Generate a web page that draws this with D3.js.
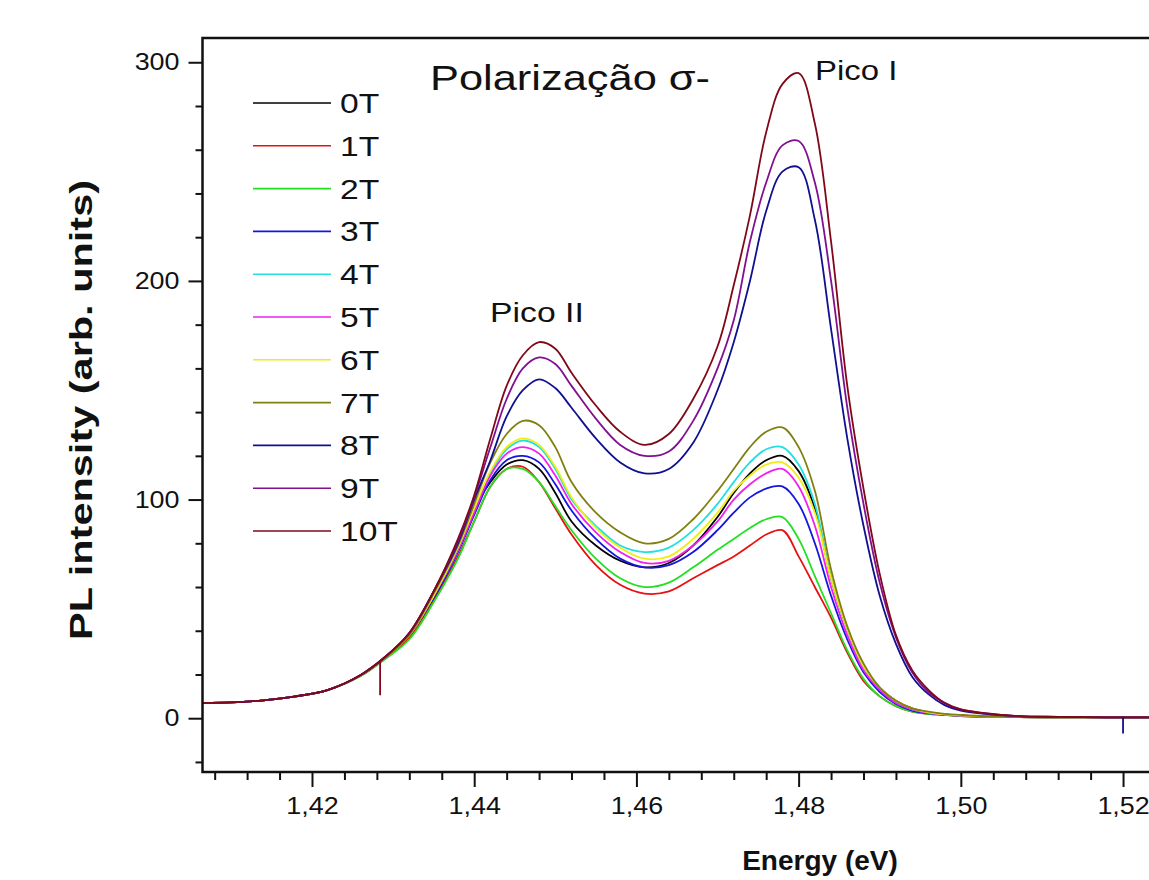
<!DOCTYPE html>
<html>
<head>
<meta charset="utf-8">
<script src="https://cdn.jsdelivr.net/npm/d3@7"></script>
<style>
  body { margin: 0; background: #fff; }
  svg text { font-family: Arial, "Liberation Sans", sans-serif; fill: #111; }
</style>
</head>
<body>
<div id="chart"></div>
<script>
// photon energy (eV), shared by all fields
var energy = [1.4065, 1.410, 1.414, 1.418, 1.422, 1.426, 1.429, 1.432, 1.435,
  1.438, 1.440, 1.442, 1.444, 1.446, 1.448, 1.450, 1.452, 1.455, 1.458, 1.461, 1.464, 1.467,
  1.470, 1.472, 1.474, 1.476, 1.478, 1.480, 1.482, 1.484, 1.486, 1.488, 1.490, 1.492, 1.494,
  1.496, 1.498, 1.500, 1.503, 1.507, 1.512, 1.518, 1.5232];

// PL intensity for each magnetic field
var pl0T = [7, 7.2, 8.2, 10, 13, 19.5, 27.5, 38, 56,
  77, 96, 108, 116, 118, 114, 103, 90, 79, 72, 69, 71, 79, 92, 103, 112, 118, 120, 113, 96, 64, 41, 24, 14, 8, 4.5, 2.7, 1.8, 1.3,
  0.8, 0.5, 0.4, 0.3, 0.3];
var pl1T = [7, 7.2, 8.2, 10, 13, 19.5, 27.3, 37, 54,
  74, 90, 106, 114, 115, 108, 96, 84, 70, 61, 57, 58, 64, 70, 74, 79, 84, 86, 74, 60, 46, 30, 17, 10, 5.5, 3, 2, 1.5, 1,
  0.7, 0.5, 0.4, 0.3, 0.3];
var pl2T = [7, 7.2, 8.2, 10, 13, 19.2, 27, 36, 53,
  73, 90, 106, 114, 114, 108, 97, 86, 73, 64, 60, 62, 69, 77, 82, 87, 91, 92, 82, 65, 48, 31, 18, 10, 5.5, 3, 2, 1.5, 1,
  0.7, 0.5, 0.4, 0.3, 0.3];
var pl3T = [7, 7.2, 8.2, 10, 13, 19.5, 27.5, 38, 55,
  76, 93, 109, 118, 120, 117, 107, 95, 82, 73, 69, 70, 76, 86, 94, 101, 105, 106, 98, 80, 56, 36, 21, 12, 6.5, 3.5, 2.2, 1.6, 1.1,
  0.7, 0.5, 0.4, 0.3, 0.3];
var pl4T = [7, 7.2, 8.2, 10, 13, 19.5, 27.5, 38, 56,
  77, 95, 112, 123, 127, 124, 114, 100, 88, 79, 76, 78, 86, 98, 108, 117, 123, 124, 116, 98, 64, 41, 24, 14, 7.5, 4, 2.5, 1.8, 1.2,
  0.8, 0.5, 0.4, 0.3, 0.3];
var pl5T = [7, 7.2, 8.2, 10, 13, 19.5, 27.5, 38, 56,
  77, 94, 111, 121, 124, 121, 111, 98, 85, 76, 71, 72, 79, 90, 100, 107, 112, 114, 106, 88, 60, 38, 22, 13, 7, 4, 2.4, 1.7, 1.2,
  0.8, 0.5, 0.4, 0.3, 0.3];
var pl6T = [7, 7.2, 8.2, 10, 13, 19.5, 27.5, 38, 56,
  78, 96, 113, 124, 128, 125, 115, 101, 87, 78, 73, 74, 82, 94, 104, 111, 116, 117, 110, 94, 64, 41, 24, 14, 8, 4.5, 2.7, 1.8, 1.3,
  0.8, 0.5, 0.4, 0.3, 0.3];
var pl7T = [7, 7.2, 8.2, 10, 13, 19.5, 27.5, 38, 57,
  79, 98, 117, 130, 136, 134, 124, 108, 94, 85, 80, 82, 91, 104, 114, 124, 131, 133, 124, 104, 68, 42, 25, 14, 8, 4.5, 3, 2, 1.5,
  0.9, 0.5, 0.4, 0.3, 0.3];
var pl8T = [7, 7.2, 8.2, 10, 13, 19.8, 28, 39, 58,
  80, 100, 118, 138, 150, 155, 151, 142, 128, 117, 112, 114, 126, 150, 172, 200, 232, 250, 252, 228, 178, 128, 88, 56, 34, 19, 11, 6, 3.5,
  2, 1, 0.6, 0.4, 0.4];
var pl9T = [7, 7.2, 8.2, 10, 13, 19.8, 28, 39, 58,
  81, 101, 124, 146, 160, 165, 162, 152, 137, 125, 120, 122, 136, 160, 182, 218, 245, 262, 264, 245, 200, 142, 98, 62, 37, 21, 12, 7, 4,
  2.2, 1, 0.6, 0.4, 0.4];
var pl10T = [7, 7.2, 8.2, 10, 13, 19.8, 28, 39, 58,
  82, 102, 128, 152, 166, 172, 169, 158, 143, 131, 125, 130, 146, 170, 198, 230, 268, 290, 295, 272, 218, 152, 105, 66, 38, 22, 13, 7, 4,
  2.3, 1, 0.6, 0.4, 0.4];

// single-channel glitches (field index, energy, value at the bottom of the spike)
var spikeField = [10, 8];
var spikeEnergy = [1.4284, 1.5200];
var spikeValue = [10.5, -7];

var fieldLabels = ['0T', '1T', '2T', '3T', '4T', '5T', '6T', '7T', '8T', '9T', '10T'];
var fieldColors = ['#000000', '#e81010', '#22e022', '#1515e0', '#20e0e0', '#f020f0',
                   '#f2ec10', '#808010', '#101090', '#801090', '#800818'];
var xTicks = [1.42, 1.44, 1.46, 1.48, 1.50, 1.52];
var yTicks = [0, 100, 200, 300];

var series = [pl0T, pl1T, pl2T, pl3T, pl4T, pl5T, pl6T, pl7T, pl8T, pl9T, pl10T];

var W = 1149, H = 880;
var margin = {top: 38, left: 202.5, bottom: 772};

var svg = d3.select('#chart').append('svg')
    .attr('width', W)
    .attr('height', H);

var x = d3.scaleLinear().domain([1.4065, 1.5232]).range([margin.left, W]);
var y = d3.scaleLinear().domain([-24.6, 311.1]).range([margin.bottom, margin.top]);

var comma = d3.formatLocale({decimal: ',', thousands: '.', grouping: [3], currency: ['', '']});

// the original lettering is a bit wider than Arial, so stretch it
function widen(sel, k) {
  sel.each(function() {
    var len = this.getComputedTextLength();
    d3.select(this).attr('textLength', len * k).attr('lengthAdjust', 'spacingAndGlyphs');
  });
}

svg.append('clipPath').attr('id', 'plotClip')
  .append('rect')
    .attr('x', margin.left).attr('y', margin.top)
    .attr('width', W - margin.left).attr('height', margin.bottom - margin.top);

// curves
var line = d3.line()
    .x(function(d) { return x(d[0]); })
    .y(function(d) { return y(d[1]); })
    .curve(d3.curveCatmullRom.alpha(0.5));

var curves = svg.append('g').attr('clip-path', 'url(#plotClip)');
series.forEach(function(vals, i) {
  var pts = energy.map(function(e, k) { return [e, vals[k]]; });
  curves.append('path')
      .attr('d', line(pts))
      .style('fill', 'none')
      .style('stroke', fieldColors[i])
      .style('stroke-width', 1.8);
});

spikeField.forEach(function(f, i) {
  var along = d3.scaleLinear().domain(energy).range(series[f]);
  curves.append('line')
      .attr('x1', x(spikeEnergy[i])).attr('x2', x(spikeEnergy[i]))
      .attr('y1', y(along(spikeEnergy[i]))).attr('y2', y(spikeValue[i]))
      .style('stroke', fieldColors[f])
      .style('stroke-width', 1.8);
});

// minor ticks
var xMinor = d3.range(1408, 1524, 4).map(function(v) { return v / 1000; })
    .filter(function(v) { return xTicks.every(function(t) { return Math.abs(t - v) > 1e-6; }); });
var yMinor = d3.range(-20, 301, 20).filter(function(v) { return v % 100 !== 0; });

svg.append('g')
    .attr('transform', 'translate(0,' + margin.bottom + ')')
    .call(d3.axisBottom(x).tickValues(xMinor).tickSize(8).tickSizeOuter(0).tickFormat(''));
svg.append('g')
    .attr('transform', 'translate(' + margin.left + ',0)')
    .call(d3.axisLeft(y).tickValues(yMinor).tickSize(7).tickSizeOuter(0).tickFormat(''));

var xAxis = svg.append('g')
    .attr('transform', 'translate(0,' + margin.bottom + ')')
    .call(d3.axisBottom(x).tickValues(xTicks).tickSize(15).tickSizeOuter(0).tickPadding(10)
      .tickFormat(comma.format('.2f')));
var yAxis = svg.append('g')
    .attr('transform', 'translate(' + margin.left + ',0)')
    .call(d3.axisLeft(y).tickValues(yTicks).tickSize(14).tickSizeOuter(0).tickPadding(9));

svg.selectAll('.tick line').attr('stroke', '#111').attr('stroke-width', 2);
svg.selectAll('.domain').attr('stroke', 'none');
xAxis.selectAll('text').attr('font-size', 24).style('font-family', 'Arial, "Liberation Sans", sans-serif').attr('fill', '#111');
yAxis.selectAll('text').attr('font-size', 24).style('font-family', 'Arial, "Liberation Sans", sans-serif').attr('fill', '#111');
widen(xAxis.selectAll('text'), 1.12);
widen(yAxis.selectAll('text'), 1.12);

// frame (right side runs off the picture)
svg.append('rect')
    .attr('x', margin.left).attr('y', margin.top)
    .attr('width', W + 20 - margin.left).attr('height', margin.bottom - margin.top)
    .style('fill', 'none').style('stroke', '#111').style('stroke-width', 2.5);

// legend
var legend = svg.append('g');
fieldLabels.forEach(function(lab, i) {
  var ly = 103 + i * 42.8;
  legend.append('line')
      .attr('x1', 253).attr('x2', 331).attr('y1', ly).attr('y2', ly)
      .style('stroke', fieldColors[i]).style('stroke-width', 1.6);
  legend.append('text')
      .attr('x', 340).attr('y', ly).attr('dy', '0.36em')
      .attr('font-size', 28)
      .text(lab);
});
widen(legend.selectAll('text'), 1.2);

// labels
var title = svg.append('text')
    .attr('x', 430).attr('y', 90)
    .attr('font-size', 35)
    .text('Polarização σ-');
widen(title, 1.24);
var pico1 = svg.append('text')
    .attr('x', 815).attr('y', 80)
    .attr('font-size', 27)
    .text('Pico I');
var pico2 = svg.append('text')
    .attr('x', 490).attr('y', 322)
    .attr('font-size', 27)
    .text('Pico II');
widen(pico1, 1.22);
widen(pico2, 1.25);

svg.append('text')
    .attr('x', 820).attr('y', 870)
    .attr('text-anchor', 'middle')
    .attr('font-size', 28).attr('font-weight', 'bold')
    .text('Energy (eV)');
svg.append('text')
    .attr('transform', 'translate(92,410) rotate(-90)')
    .attr('text-anchor', 'middle')
    .attr('font-size', 31).attr('font-weight', 'bold')
    .attr('textLength', 460).attr('lengthAdjust', 'spacingAndGlyphs')
    .text('PL intensity (arb. units)');
</script>
</body>
</html>
